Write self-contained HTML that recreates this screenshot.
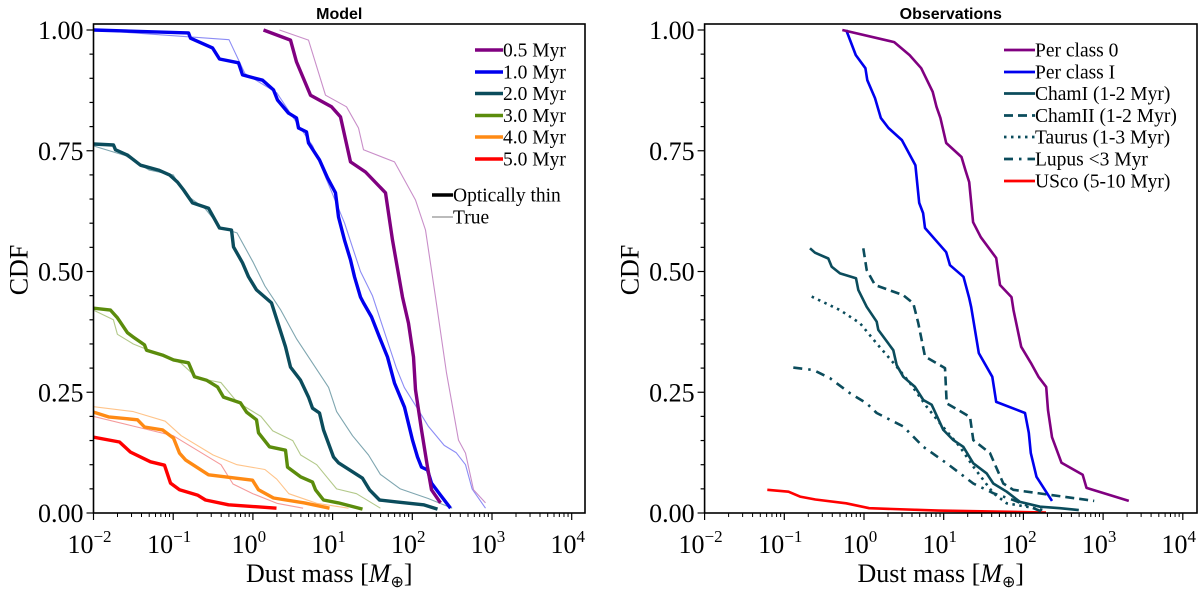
<!DOCTYPE html>
<html><head><meta charset="utf-8"><style>
html,body{margin:0;padding:0;background:#fff;}
svg{display:block;font-family:"Liberation Serif",serif;}
</style></head><body>
<svg id="fig" width="1200" height="591" viewBox="0 0 1200 591" xmlns="http://www.w3.org/2000/svg"></svg>
<script>
// ---- data (x values are log10 dust mass in Earth masses, y values are CDF) ----
const panelTitles = ["Model", "Observations"];
const xTickExps = [-2, -1, 0, 1, 2, 3, 4];
const yTickLabels = ["0.00", "0.25", "0.50", "0.75", "1.00"];
const yTickValues = [0, 0.25, 0.5, 0.75, 1.0];

const modelNames = ["0.5 Myr", "1.0 Myr", "2.0 Myr", "3.0 Myr", "4.0 Myr", "5.0 Myr"];
// Optically thin (thick lines)
const m05_x = [0.133,0.472,0.547,0.723,0.986,1.099,1.225,1.413,1.664,1.752,1.877,1.952,2.015,2.040,2.115,2.191,2.241,2.354];
const m05_y = [1.0,0.979,0.934,0.865,0.841,0.820,0.727,0.706,0.663,0.565,0.447,0.393,0.323,0.255,0.172,0.095,0.048,0.021];
const m10_x = [-2,-0.808,-0.783,-0.507,-0.419,-0.181,-0.130,0.120,0.258,0.309,0.447,0.547,0.572,0.673,0.698,0.836,0.936,1.036,1.074,1.149,1.225,1.275,1.350,1.388,1.488,1.589,1.689,1.777,1.902,2.003,2.065,2.115,2.191,2.241,2.354,2.479];
const m10_y = [1.0,0.994,0.983,0.963,0.940,0.932,0.907,0.896,0.876,0.855,0.828,0.818,0.797,0.789,0.766,0.731,0.694,0.663,0.613,0.565,0.524,0.489,0.447,0.435,0.406,0.364,0.323,0.269,0.219,0.151,0.116,0.095,0.089,0.062,0.037,0.010];
const m20_x = [-2,-1.749,-1.724,-1.573,-1.410,-1.184,-1.046,-0.946,-0.871,-0.808,-0.758,-0.557,-0.419,-0.268,-0.243,-0.130,-0.055,0.045,0.233,0.409,0.472,0.597,0.698,0.748,0.836,0.886,1.011,1.074,1.375,1.463,1.589,1.802,2.141,2.316];
const m20_y = [0.764,0.762,0.752,0.741,0.720,0.710,0.700,0.685,0.669,0.654,0.642,0.631,0.590,0.586,0.551,0.518,0.489,0.462,0.435,0.344,0.302,0.275,0.240,0.217,0.207,0.172,0.116,0.104,0.072,0.048,0.027,0.023,0.017,0.008];
const m30_x = [-2,-1.787,-1.699,-1.573,-1.498,-1.360,-1.335,-1.134,-0.996,-0.808,-0.733,-0.582,-0.444,-0.369,-0.156,-0.080,0.045,0.070,0.208,0.409,0.434,0.597,0.748,0.786,0.886,1.074,1.375];
const m30_y = [0.424,0.420,0.404,0.373,0.364,0.348,0.337,0.327,0.317,0.311,0.282,0.275,0.261,0.240,0.228,0.209,0.193,0.166,0.137,0.130,0.095,0.075,0.064,0.048,0.027,0.021,0.008];
const m40_x = [-2,-1.812,-1.448,-1.360,-1.134,-0.996,-0.921,-0.846,-0.557,-0.005,0.070,0.258,0.647,0.961];
const m40_y = [0.209,0.199,0.193,0.178,0.172,0.155,0.124,0.110,0.079,0.068,0.048,0.031,0.021,0.010];
const m50_x = [-2,-1.674,-1.536,-1.285,-1.109,-1.034,-0.921,-0.695,-0.595,-0.306,0.296];
const m50_y = [0.157,0.147,0.126,0.106,0.099,0.062,0.048,0.037,0.027,0.017,0.010];
// True (thin lines)
const t05_x = [0.334,0.698,0.911,1.174,1.325,1.388,1.777,2.040,2.166,2.291,2.429,2.580,2.667,2.768,2.918];
const t05_y = [1.0,0.979,0.865,0.841,0.797,0.752,0.727,0.648,0.586,0.447,0.290,0.151,0.124,0.048,0.021];
const t10_x = [-2,-0.3,-0.1,0.3,0.5,0.75,0.9,1.0,1.15,1.25,1.35,1.5,1.6,1.7,1.8,1.9,2.05,2.2,2.4,2.55,2.667,2.75,2.918];
const t10_y = [1.0,0.98,0.91,0.87,0.82,0.76,0.70,0.66,0.60,0.55,0.50,0.45,0.40,0.35,0.30,0.26,0.22,0.18,0.14,0.125,0.10,0.05,0.01];
const t20_x = [-2,-1.6,-1.3,-1.0,-0.85,-0.6,-0.4,-0.2,0.0,0.15,0.35,0.55,0.75,0.95,1.05,1.25,1.45,1.6,1.85,2.2,2.5];
const t20_y = [0.76,0.74,0.71,0.70,0.66,0.63,0.59,0.58,0.52,0.47,0.42,0.36,0.31,0.26,0.21,0.16,0.12,0.08,0.05,0.03,0.01];
const t30_x = [-2,-1.75,-1.7,-1.5,-1.2,-0.9,-0.7,-0.4,-0.2,0.1,0.25,0.5,0.6,0.8,0.95,1.05,1.3,1.6];
const t30_y = [0.42,0.40,0.37,0.35,0.33,0.31,0.28,0.27,0.23,0.20,0.17,0.15,0.12,0.10,0.07,0.05,0.04,0.01];
const t40_x = [-2,-1.5,-1.1,-0.9,-0.5,-0.2,0.15,0.3,0.45,0.8,1.2];
const t40_y = [0.22,0.21,0.19,0.16,0.12,0.10,0.09,0.07,0.04,0.02,0.01];
const t50_x = [-2,-1.5,-1.0,-0.7,-0.4,-0.25,0.0,0.3,0.63];
const t50_y = [0.20,0.18,0.16,0.13,0.10,0.06,0.04,0.02,0.01];

const obsNames = ["Per class 0","Per class I","ChamI (1-2 Myr)","ChamII (1-2 Myr)","Taurus (1-3 Myr)","Lupus <3 Myr","USco (5-10 Myr)"];
const per0_x = [-0.272,0.379,0.572,0.718,0.862,0.910,0.959,1.031,1.223,1.272,1.320,1.369,1.466,1.659,1.706,1.851,1.876,1.972,2.093,2.189,2.286,2.309,2.359,2.478,2.744,2.792,3.322];
const per0_y = [1.0,0.975,0.948,0.921,0.872,0.841,0.818,0.766,0.737,0.710,0.685,0.602,0.571,0.528,0.472,0.447,0.420,0.344,0.311,0.282,0.261,0.213,0.157,0.104,0.079,0.052,0.025];
const per1_x = [-0.223,-0.103,0.018,0.041,0.138,0.211,0.307,0.476,0.645,0.693,0.742,0.765,1.031,1.079,1.248,1.320,1.345,1.440,1.610,1.659,2.020,2.068,2.093,2.164,2.359];
const per1_y = [1.0,0.948,0.921,0.896,0.859,0.818,0.797,0.772,0.720,0.642,0.621,0.590,0.540,0.513,0.489,0.445,0.426,0.331,0.282,0.230,0.207,0.166,0.124,0.075,0.025];
const cham1_x = [-0.678,-0.615,-0.448,-0.405,-0.301,-0.100,-0.071,0.034,0.159,0.179,0.368,0.410,0.493,0.640,0.744,0.849,0.995,1.120,1.246,1.371,1.540,1.622,1.790,1.957,2.208,2.459,2.695];
const cham1_y = [0.548,0.539,0.527,0.510,0.496,0.486,0.462,0.427,0.396,0.379,0.337,0.306,0.282,0.261,0.234,0.224,0.172,0.151,0.137,0.103,0.082,0.061,0.044,0.023,0.013,0.010,0.006];
const cham2_x = [-0.009,0.034,0.138,0.493,0.619,0.681,0.765,1.016,1.038,1.330,1.371,1.581,1.748,1.873,2.888];
const cham2_y = [0.548,0.503,0.472,0.451,0.434,0.393,0.324,0.300,0.227,0.199,0.151,0.124,0.061,0.048,0.025];
const taurus_x = [-0.656,-0.301,-0.050,0.159,0.410,0.577,0.787,0.952,1.203,1.371,1.622,1.790,2.041,2.250];
const taurus_y = [0.448,0.420,0.393,0.351,0.303,0.269,0.220,0.186,0.137,0.096,0.041,0.020,0.013,0.006];
const lupus_x = [-0.887,-0.636,-0.427,-0.176,0.034,0.159,0.493,0.744,1.038,1.371,1.622,1.873,2.230];
const lupus_y = [0.301,0.296,0.279,0.248,0.227,0.207,0.179,0.137,0.103,0.061,0.041,0.027,0.003];
const usco_x = [-1.213,-0.947,-0.803,-0.610,-0.223,0.065,0.935,2.284];
const usco_y = [0.048,0.044,0.034,0.028,0.020,0.010,0.005,0.001];

// ---- layout ----
const NS = "http://www.w3.org/2000/svg";
const svg = document.getElementById("fig");
const panels = [{left:93.5, right:585, name:"model"}, {left:704.6, right:1197, name:"observations"}];
const TOP = 24, BOTTOM = 513, Y1 = 30, DEC = 79.7;
function xScale(p, lx){ return p.left + (lx + 2) * DEC; }
function yScale(v){ return BOTTOM - v * (BOTTOM - Y1); }
function el(tag, attrs, parent){
  const e = document.createElementNS(NS, tag);
  for (const k in attrs) e.setAttribute(k, attrs[k]);
  (parent || svg).appendChild(e);
  return e;
}
function drawLine(p, xs, ys, color, width, dash, name, parent){
  const d = xs.map((x,i)=>(i?"L":"M")+xScale(p,x).toFixed(1)+","+yScale(ys[i]).toFixed(1)).join(" ");
  const path = el("path", {d:d, fill:"none", stroke:color, "stroke-width":width, "stroke-linejoin":"round"}, parent);
  if (dash) path.setAttribute("stroke-dasharray", dash);
  
  
}

panels.forEach((p, pi) => {
  const g = el("g", {});
  
  
  const t = el("text", {x:(p.left+p.right)/2, y:19, "text-anchor":"middle", "font-family":"Liberation Sans, sans-serif", "font-weight":"bold", "font-size":"16"}, g);
  t.textContent = panelTitles[pi];
  
  
  for (let i = 0; i <= 20; i++) {
    const v = i * 0.05, y = yScale(v), major = i % 5 === 0;
    el("line", {x1:p.left - (major?7:4), x2:p.left, y1:y, y2:y, stroke:"#000", "stroke-width":1.2}, g);
  }
  yTickValues.forEach((v, i) => {
    const tx = el("text", {x:p.left - 10, y:yScale(v) + 9, "text-anchor":"end", "font-size":"26"}, g);
    tx.textContent = yTickLabels[i];
    
    
  });
  xTickExps.forEach((e, i) => {
    const x = xScale(p, e);
    el("line", {x1:x, x2:x, y1:BOTTOM, y2:BOTTOM+7, stroke:"#000", "stroke-width":1.2}, g);
    for (let m = 2; m <= 9; m++) {
      const xm = xScale(p, e + Math.log10(m));
      if (xm < p.right) el("line", {x1:xm, x2:xm, y1:BOTTOM, y2:BOTTOM+4, stroke:"#000", "stroke-width":1}, g);
    }
    const tx = el("text", {x:x - 4, y:553, "text-anchor":"middle", "font-size":"26"}, g);
    
    
    const b = el("tspan", {}, tx); b.textContent = "10";
    const s = el("tspan", {dy:"-11", "font-size":"17"}, tx); s.textContent = (e < 0 ? "\u2212" : "") + Math.abs(e);
  });
  const xl = el("text", {x:(p.left+p.right)/2 - 10, y:582, "text-anchor":"middle", "font-size":"26"}, g);
  
  
  const a = el("tspan", {}, xl); a.textContent = "Dust mass [";
  const bm = el("tspan", {"font-style":"italic"}, xl); bm.textContent = "M";
  const c = el("tspan", {"font-size":"16", dy:"5"}, xl); c.textContent = "\u2295";
  const d2 = el("tspan", {dy:"-5"}, xl); d2.textContent = "]";
  const yl = el("text", {x:0, y:0, "text-anchor":"middle", "font-size":"26", transform:"translate(" + (p.left-66) + ",270) rotate(-90)"}, g);
  yl.textContent = "CDF";
  
  
});

panels.forEach((p, pi) => {
  const cp = el("clipPath", {id:"clip"+pi});
  el("rect", {x:p.left, y:TOP, width:p.right-p.left, height:BOTTOM-TOP}, cp);
});

const P0 = panels[0], P1 = panels[1];
const gm = el("g", {"clip-path":"url(#clip0)"});


const modelColors = ["#800080","#0000ee","#0b4c5c","#5b8c0c","#ff8a14","#ff0000"];
const thinColors  = ["#c98ec9","#8c8cf5","#7fa6b0","#b3c98a","#ffc48a","#f59a9a"];
const trueX = [t05_x,t10_x,t20_x,t30_x,t40_x,t50_x], trueY = [t05_y,t10_y,t20_y,t30_y,t40_y,t50_y];
const thickX = [m05_x,m10_x,m20_x,m30_x,m40_x,m50_x], thickY = [m05_y,m10_y,m20_y,m30_y,m40_y,m50_y];
for (let i = 5; i >= 0; i--) drawLine(P0, trueX[i], trueY[i], thinColors[i], 1.1, null, "true-" + modelNames[i].replace(" ","-").toLowerCase(), gm);
for (let i = 5; i >= 0; i--) drawLine(P0, thickX[i], thickY[i], modelColors[i], 3.4, null, "optically-thin-" + modelNames[i].replace(" ","-").toLowerCase(), gm);

const go = el("g", {"clip-path":"url(#clip1)"});


const teal = "#0b4c5c";
drawLine(P1, usco_x, usco_y, "#ff0000", 2.6, null, "usco-line", go);
drawLine(P1, lupus_x, lupus_y, teal, 2.6, "9,6,2.5,6", "lupus-line", go);
drawLine(P1, taurus_x, taurus_y, teal, 2.6, "2.5,4.5", "taurus-line", go);
drawLine(P1, cham2_x, cham2_y, teal, 2.6, "9,5", "chamii-line", go);
drawLine(P1, cham1_x, cham1_y, teal, 2.6, null, "chami-line", go);
drawLine(P1, per1_x, per1_y, "#0000ee", 2.6, null, "per-class-i-line", go);
drawLine(P1, per0_x, per0_y, "#800080", 2.6, null, "per-class-0-line", go);

panels.forEach(p => {
  const r = el("rect", {x:p.left, y:TOP, width:p.right-p.left, height:BOTTOM-TOP, fill:"none", stroke:"#000", "stroke-width":1.6});
  
  
});

const legY = [50, 72, 93.5, 115.5, 137, 159, 181];
const lgm = el("g", {});


modelNames.forEach((n, i) => {
  el("line", {x1:475, x2:503, y1:legY[i], y2:legY[i], stroke:modelColors[i], "stroke-width":3.4}, lgm);
  const t = el("text", {x:503, y:legY[i]+6.5, "font-size":"19.5"}, lgm);
  t.textContent = n;
  
  
});
el("line", {x1:432, x2:453, y1:195, y2:195, stroke:"#000", "stroke-width":3.4}, lgm);
let tt = el("text", {x:453, y:201.5, "font-size":"19.5"}, lgm); tt.textContent = "Optically thin";


el("line", {x1:432, x2:453, y1:217, y2:217, stroke:"#777", "stroke-width":1.1}, lgm);
tt = el("text", {x:453, y:223.5, "font-size":"19.5"}, lgm); tt.textContent = "True";



const lgo = el("g", {});


const obsColors = ["#800080","#0000ee",teal,teal,teal,teal,"#ff0000"];
const obsDash = [null,null,null,"9,5","2.5,4.5","9,6,2.5,6",null];
obsNames.forEach((n, i) => {
  const ln = el("line", {x1:1004, x2:1035, y1:legY[i], y2:legY[i], stroke:obsColors[i], "stroke-width":2.8}, lgo);
  if (obsDash[i]) ln.setAttribute("stroke-dasharray", obsDash[i]);
  const t = el("text", {x:1035, y:legY[i]+6.5, "font-size":"19.5"}, lgo);
  t.textContent = n;
  
  
});
</script>
</body></html>
